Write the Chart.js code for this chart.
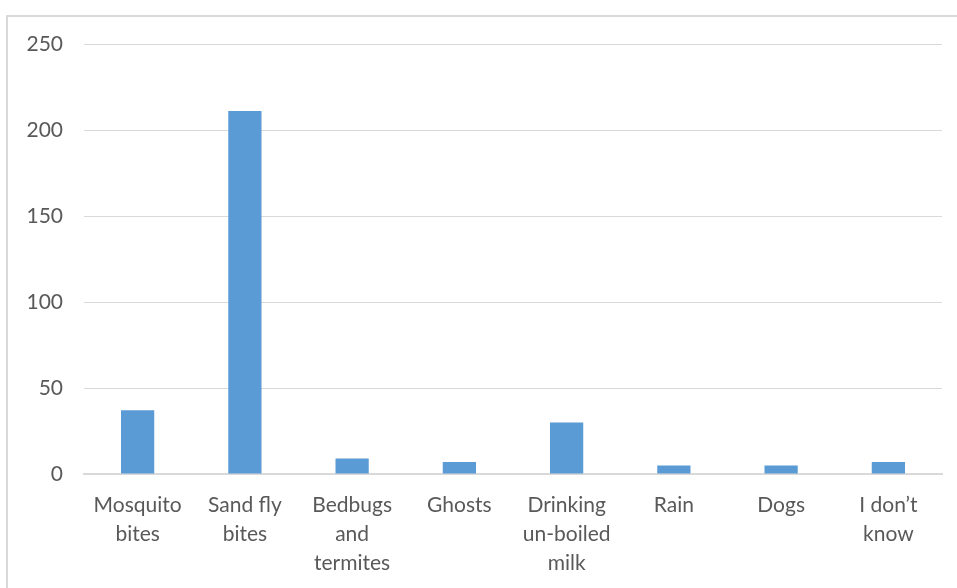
<!DOCTYPE html>
<html>
<head>
<meta charset="utf-8">
<script src="https://cdn.jsdelivr.net/npm/chart.js@4/dist/chart.umd.min.js"></script>
<style>
  html, body { margin: 0; padding: 0; background: #fff; }
  #wrap { position: relative; width: 957px; height: 588px; overflow: hidden; }
  #frame {
    position: absolute; left: 6px; top: 15px; width: 1000px; height: 640px;
    border: 2px solid #d9d9d9; box-sizing: border-box;
  }
  canvas { position: absolute; left: 0; top: 0; }
</style>
</head>
<body>
<div id="wrap">
  <div id="frame"></div>
  <canvas id="causesChart" width="957" height="588"></canvas>
</div>
<script>
// categories and counts
const causes = [
    ["Mosquito", "bites"],
    ["Sand fly", "bites"],
    ["Bedbugs", "and", "termites"],
    "Ghosts",
    ["Drinking", "un-boiled", "milk"],
    "Rain",
    "Dogs",
    ["I don\u2019t", "know"]
];
const counts = [37, 211, 9, 7, 30, 5, 5, 7];
const yTicks = [0, 50, 100, 150, 200, 250];

const labelFont = { family: "Lato, 'Liberation Sans', sans-serif", size: 21, lineHeight: 1.38 };
const gridColor = "#d9d9d9";
const textColor = "#595959";

new Chart(document.getElementById("causesChart"), {
    type: "bar",
    data: {
        labels: causes,
        datasets: [{
            data: counts,
            backgroundColor: "#5b9bd5",
            borderWidth: 0,
            barPercentage: 1,
            categoryPercentage: 0.31
        }]
    },
    options: {
        responsive: false,
        animation: false,
        layout: { padding: { left: 0, right: 15, top: 44, bottom: 0 } },
        plugins: {
            legend: { display: false },
            tooltip: { enabled: false }
        },
        scales: {
            x: {
                grid: { display: false },
                border: { display: true, color: gridColor, width: 2 },
                ticks: {
                    color: textColor,
                    font: labelFont,
                    padding: 9,
                    maxRotation: 0,
                    autoSkip: false
                },
                afterFit(scale) { scale.height = 114; }
            },
            y: {
                min: yTicks[0],
                max: yTicks[yTicks.length - 1],
                afterBuildTicks(scale) {
                    scale.ticks = yTicks.map(v => ({ value: v }));
                },
                grid: { color: gridColor, lineWidth: 1, drawTicks: false },
                border: { display: false },
                ticks: {
                    color: textColor,
                    font: labelFont,
                    padding: 21
                },
                afterFit(scale) { scale.width = 84; }
            }
        }
    }
});
</script>
</body>
</html>
